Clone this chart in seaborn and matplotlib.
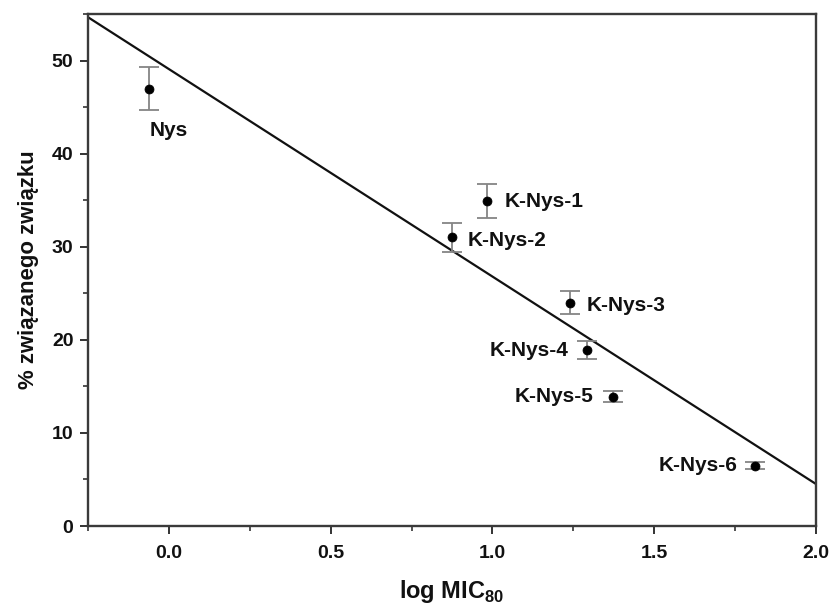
import numpy as np
import pandas as pd
import seaborn as sns
import matplotlib.pyplot as plt
from matplotlib.ticker import MultipleLocator


compounds = ["Nys", "K-Nys-1", "K-Nys-2", "K-Nys-3", "K-Nys-4", "K-Nys-5", "K-Nys-6"]
log_mic80 = [-0.06, 0.983, 0.875, 1.24, 1.292, 1.372, 1.81]
bound_pct = [47.0, 34.9, 31.0, 24.0, 18.9, 13.9, 6.5]
bound_err = [2.35, 1.8, 1.6, 1.2, 1.0, 0.6, 0.4]

df = pd.DataFrame({"compound": compounds, "log_mic": log_mic80,
                   "bound": bound_pct, "err": bound_err})

# label placement (offset in points, horizontal alignment)
label_offsets = {
    "Nys": ((0, -30), "left"),
    "K-Nys-1": ((13, 0), "left"),
    "K-Nys-2": ((11, -2), "left"),
    "K-Nys-3": ((12, -2), "left"),
    "K-Nys-4": ((-13, 0), "right"),
    "K-Nys-5": ((-14, 0), "right"),
    "K-Nys-6": ((-12, 0), "right"),
}

sns.set_style("ticks")
plt.rcParams["font.family"] = ["Liberation Sans", "DejaVu Sans"]
plt.rcParams["font.weight"] = "bold"
plt.rcParams["mathtext.fontset"] = "custom"
plt.rcParams["mathtext.bf"] = "Liberation Sans:bold"
plt.rcParams["mathtext.rm"] = "Liberation Sans:bold"

fig = plt.figure(figsize=(8.33, 6.12), dpi=100)
ax = fig.add_axes([0.1056, 0.1405, 0.874, 0.8365])

ax.set_xlim(-0.25, 2.0)
ax.set_ylim(0, 55)

# linear fit across the whole axis
sns.regplot(data=df, x="log_mic", y="bound", ax=ax, scatter=False, ci=None,
            truncate=False, line_kws=dict(color="#111111", lw=1.6))

ax.errorbar(df["log_mic"], df["bound"], yerr=df["err"], fmt="none",
            ecolor="#858585", elinewidth=1.3, capsize=7, capthick=1.3, zorder=2)
sns.scatterplot(data=df, x="log_mic", y="bound", ax=ax, color="black",
                edgecolor="black", s=42, zorder=3, legend=False)

for _, row in df.iterrows():
    (dx, dy), ha = label_offsets[row["compound"]]
    ax.annotate(row["compound"], (row["log_mic"], row["bound"]),
                xytext=(dx, dy), textcoords="offset points", ha=ha, va="center",
                fontsize=15, fontweight="bold", color="#111111")

ax.set_xlim(-0.25, 2.0)
ax.set_ylim(0, 55)
ax.xaxis.set_major_locator(MultipleLocator(0.5))
ax.xaxis.set_minor_locator(MultipleLocator(0.25))
ax.yaxis.set_major_locator(MultipleLocator(10))
ax.yaxis.set_minor_locator(MultipleLocator(5))
ax.xaxis.set_major_formatter(plt.FormatStrFormatter("%.1f"))

ax.tick_params(which="major", direction="out", length=5.5, width=1.4, pad=5,
               labelsize=14, colors="#333333", labelcolor="#111111")
ax.tick_params(axis="x", which="major", pad=8)
ax.tick_params(which="minor", direction="out", length=3.5, width=1.2, colors="#333333")
for lbl in ax.get_xticklabels() + ax.get_yticklabels():
    lbl.set_fontweight("bold")

for side in ["top", "right", "bottom", "left"]:
    ax.spines[side].set_visible(True)
    ax.spines[side].set_linewidth(1.7)
    ax.spines[side].set_color("#3a3a3a")

ax.set_xlabel("log MIC$_{\\mathbf{80}}$", fontsize=17, fontweight="bold",
              color="#111111", labelpad=12)
ax.set_ylabel("% związanego związku", fontsize=16, fontweight="bold",
              color="#111111", labelpad=9)

fig.savefig("out.png", dpi=100)
